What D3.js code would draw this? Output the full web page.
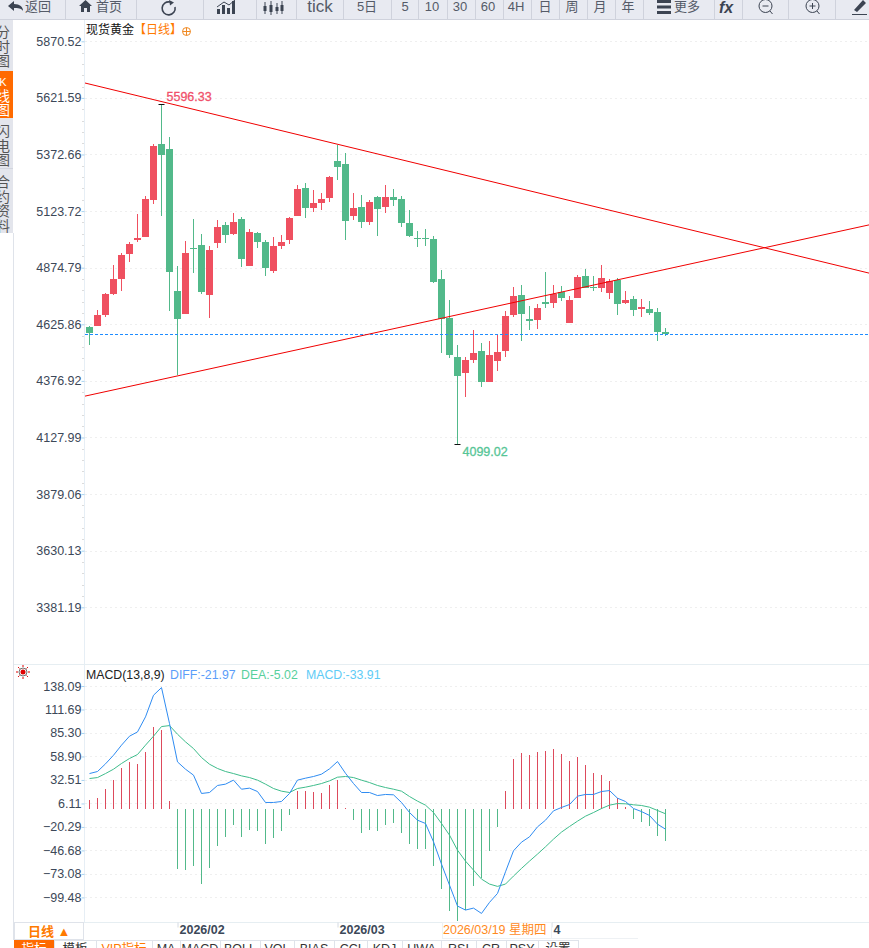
<!DOCTYPE html>
<html><head><meta charset="utf-8">
<style>html,body{margin:0;padding:0;background:#fff;overflow:hidden}svg{display:block}
text{font-family:"Liberation Sans","Noto Sans CJK SC",sans-serif}</style>
<script src="https://cdn.jsdelivr.net/npm/d3@7"></script></head><body>
<svg id="c" width="869" height="948"></svg>
<script>
const open=[4614,4618,4667,4759,4825,4935,4997,5010,5173,5419,5397,4772,4671,4961,4975,4755,4983,5063,5023,5089,4882,5027,4988,4860,4970,4997,5102,5225,5137,5159,5181,5344,5331,5102,5142,5076,5186,5142,5186,5177,5071,5005,5005,5001,4825,4654,4482,4412,4469,4508,4372,4464,4508,4667,4755,4649,4645,4724,4719,4768,4632,4742,4838,4790,4785,4763,4821,4719,4737,4693,4693,4680,4592];
const close=[4588,4667,4759,4825,4931,4979,5005,5177,5410,5370,4856,4649,4939,4957,4768,4953,5054,5019,5076,4913,5032,4988,4873,4970,4988,5093,5221,5137,5159,5177,5274,5318,5080,5137,5076,5164,5133,5186,5173,5071,5014,5001,5001,4812,4649,4491,4398,4469,4500,4372,4491,4504,4662,4750,4671,4640,4698,4715,4759,4742,4733,4834,4785,4785,4829,4816,4715,4733,4689,4702,4676,4592,4581];
const high=[4618,4689,4763,4887,4939,4988,5111,5190,5419,5596.33,5450,4882,4992,5089,5023,4970,5085,5076,5115,5098,5045,5032,4997,5010,5019,5098,5238,5247,5216,5203,5278,5414,5379,5203,5195,5173,5190,5238,5221,5190,5128,5036,5045,5014,4865,4733,4535,4482,4601,4544,4552,4579,4684,4790,4799,4706,4715,4856,4799,4794,4750,4843,4869,4838,4887,4825,4829,4772,4750,4737,4728,4698,4610];
const low=[4535,4618,4658,4755,4772,4900,4988,5010,5155,5102,4684,4403,4671,4851,4759,4654,4961,4983,5019,4878,4882,4961,4838,4851,4957,4979,5102,5093,5120,5128,5164,5260,4997,5085,5049,5063,5014,5115,5146,5054,5010,4966,4970,4807,4500,4478,4099.02,4306,4456,4350,4372,4420,4482,4658,4552,4601,4605,4698,4698,4728,4632,4742,4785,4772,4768,4737,4667,4715,4662,4658,4667,4552,4574];
const macdBar=[9.8,12,22.1,32.3,45.7,52.5,50.2,63.7,91.8,88.4,8.7,-67.7,-68.8,-64.3,-84.5,-66.6,-41.9,-31.8,-18.3,-31.8,-23.9,-25,-39.6,-32.9,-25,-7,19.9,19.9,18.8,17.7,26.6,32.3,1.5,-12.7,-27.3,-23.9,-25,-18.3,-16,-27.3,-39.6,-45.2,-45.2,-64.3,-90.1,-114.8,-126.1,-113.7,-86.8,-77.8,-47.5,-20.5,19.9,55.8,62.6,60.3,63.7,64.8,67.1,61.4,53.6,58.1,49.1,40.1,37.9,31.1,12,1.9,-11.5,-14.9,-19.4,-30.6,-36];
const diff=[39.7,42,50.6,60.3,71.6,81.7,86.5,103.4,127.7,136.3,95.9,52.8,44.6,37.9,17.3,18.4,26.3,27.8,32.3,22.1,23.3,19.5,7.2,7.2,8.3,17.3,32.3,34.5,36.4,39,45,53.2,40,28.5,18.4,18.4,15,16.2,15.8,7.2,-4.1,-12.7,-16.4,-37,-62.1,-85.7,-109.2,-113.7,-111.5,-117.5,-105.1,-95,-70.7,-47.1,-37.4,-31.4,-20.2,-12.7,-2.2,1.6,4.9,14.3,16.2,16.2,19.5,20.6,12,8.3,0.4,-3,-7.4,-17.2,-22.8];
const dea=[34.1,35.2,39.7,44.6,51,56.6,61.1,71.6,81.7,92.5,93.6,83.9,75.3,67.8,57.7,50.2,45.4,42,39.7,37.1,35.2,32.3,27.8,22.9,19.9,18.4,22.9,24.4,26.3,28.5,31.5,35.6,36.4,35.2,32.3,29.6,26.3,24,22.1,19.9,13.9,8.7,4.2,-4.1,-16.4,-29.5,-46.4,-58.7,-68.8,-78.9,-84.5,-87.1,-84.5,-75.5,-66.9,-58.7,-50.8,-42.6,-34,-26.1,-19.8,-13.8,-8.2,-4.1,0.4,4.2,6,5.7,4.6,3.8,1.9,-1.8,-5.5];
const priceTicks=[5870.52,5621.59,5372.66,5123.72,4874.79,4625.86,4376.92,4127.99,3879.06,3630.13,3381.19];
const macdTicks=[138.09,111.69,85.30,58.90,32.51,6.11,-20.29,-46.68,-73.08,-99.48];
const trendIdx=[-0.56,97.44];
const trendDown=[5687,4851];
const trendUp=[4310,5063];
const monthIdx=[11,31,57.75];
const monthLabels=["2026/02","2026/03","4"];
const topButtons=["返回","首页","tick","5日","5","10","30","60","4H","日","周","月","年","更多"];
const sideTabs=[["分","时","图"],["K","线","图"],["闪","电","图"],["合","约","资","料"]];
const bottomTabs=["指标","模板","VIP指标","MA","MACD","BOLL","VOL","BIAS","CCI","KDJ","UWA","RSI","CR","PSY","设置"];

const RED="#ef5060",GREEN="#52b98a",ORANGE="#ff7a00",INK="#3c4858";
const svg=d3.select("#c");
const n=open.length;
const x=d3.scaleLinear().domain([0,n-1]).range([89.5,665.5]);
const y=d3.scaleLinear().domain([priceTicks[0],priceTicks[10]]).range([41.3,607.3]);
const ym=d3.scaleLinear().domain([138.09,-99.48]).range([686,897.4]);
const snap=v=>Math.round(v);

// frames
svg.append("line").attr("x1",84.5).attr("x2",84.5).attr("y1",20).attr("y2",922).attr("stroke","#e6eef5");
svg.append("line").attr("x1",13.5).attr("x2",13.5).attr("y1",233).attr("y2",940).attr("stroke","#dfe3ea");
svg.append("line").attr("x1",14).attr("x2",869).attr("y1",664.5).attr("y2",664.5).attr("stroke","#e6eef2");
svg.append("line").attr("x1",14).attr("x2",869).attr("y1",922.5).attr("y2",922.5).attr("stroke","#e6eef2");

// grids and axes
function grid(scale,ticks,minor){
  const g=svg.append("g");
  g.selectAll("line.g").data(ticks).join("line").attr("class","g").attr("x1",85).attr("x2",869)
   .attr("y1",d=>snap(scale(d))+.5).attr("y2",d=>snap(scale(d))+.5)
   .attr("stroke","#efefef").attr("stroke-dasharray","2,3");
  if(minor){
    const st=(ticks[1]-ticks[0])/5, m=[];
    ticks.slice(0,-1).forEach(t=>{for(let k=1;k<5;k++)m.push(t+st*k)});
    g.selectAll("line.m").data(m).join("line").attr("class","m").attr("x1",82).attr("x2",84)
     .attr("y1",d=>snap(scale(d))+.5).attr("y2",d=>snap(scale(d))+.5).attr("stroke","#dcdcdc");
  }
  const ax=d3.axisLeft(scale).tickValues(ticks).tickFormat(d3.format(".2f")).tickSize(3).tickPadding(0);
  const a=svg.append("g").attr("transform","translate(84.5,0)").call(ax);
  a.select(".domain").remove();
  a.selectAll(".tick line").attr("stroke","#a9d4f2");
  a.selectAll("text").attr("fill",INK).attr("font-size",12.5).attr("font-family","Liberation Sans");
}
grid(y,priceTicks,true);
grid(ym,macdTicks,false);

// candles
const up=i=>close[i]>=open[i];
const idx=d3.range(n);
const cg=svg.append("g");
cg.selectAll("rect.w").data(idx).join("rect").attr("class","w").attr("x",i=>x(i)-.5).attr("width",1)
  .attr("y",i=>snap(y(high[i]))).attr("height",i=>Math.max(1,snap(y(low[i]))-snap(y(high[i]))))
  .attr("fill",i=>up(i)?RED:GREEN);
cg.selectAll("rect.b").data(idx).join("rect").attr("class","b").attr("x",i=>x(i)-3.5).attr("width",7)
  .attr("y",i=>snap(y(Math.max(open[i],close[i]))))
  .attr("height",i=>Math.max(1,snap(y(Math.min(open[i],close[i])))-snap(y(Math.max(open[i],close[i])))))
  .attr("fill",i=>up(i)?RED:GREEN);

// last price line
svg.append("line").attr("x1",85).attr("x2",869).attr("y1",snap(y(close[n-1]))+.5).attr("y2",snap(y(close[n-1]))+.5)
  .attr("stroke","#1e8cff").attr("stroke-dasharray","3,2");

// trend lines
[trendDown,trendUp].forEach(t=>{
  svg.append("line").attr("x1",x(trendIdx[0])).attr("x2",x(trendIdx[1])).attr("y1",y(t[0])).attr("y2",y(t[1]))
   .attr("stroke","#f00000").attr("stroke-width",1);
});

// extreme markers
const iHi=d3.maxIndex(high), iLo=d3.minIndex(low);
[[iHi,high[iHi]],[iLo,low[iLo]]].forEach(([i,v])=>{
  svg.append("line").attr("x1",x(i)-3).attr("x2",x(i)+3).attr("y1",snap(y(v))+.5).attr("y2",snap(y(v))+.5).attr("stroke","#111");
});
svg.append("text").attr("x",x(iHi)+5).attr("y",y(high[iHi])-3).attr("fill","#f0506a").attr("stroke","#f0506a").attr("stroke-width",.3).attr("font-size",12.5).text(d3.format(".2f")(high[iHi]));
svg.append("text").attr("x",x(iLo)+5).attr("y",y(low[iLo])+11.5).attr("fill","#56c596").attr("stroke","#56c596").attr("stroke-width",.3).attr("font-size",12.5).text(d3.format(".2f")(low[iLo]));

// title
svg.append("text").attr("x",86).attr("y",34).attr("font-size",12).attr("fill","#111").text("现货黄金");
svg.append("text").attr("x",134).attr("y",34).attr("font-size",12).attr("fill",ORANGE).text("【日线】");
const ci=svg.append("g").attr("transform","translate(186.5,31.5)").attr("stroke","#f08a24").attr("fill","none");
ci.append("circle").attr("r",4);ci.append("path").attr("d","M-4,0H4M0,-4V4");

// MACD
const mg=svg.append("g");
mg.selectAll("line").data(idx).join("line").attr("x1",i=>x(i)).attr("x2",i=>x(i))
  .attr("y1",snap(ym(0))).attr("y2",i=>snap(ym(macdBar[i])))
  .attr("stroke",i=>macdBar[i]>=0?"#dd4a5c":GREEN);
const ln=a=>d3.line().x((d,i)=>x(i)).y(d=>ym(d))(a);
svg.append("path").attr("d",ln(dea)).attr("fill","none").attr("stroke","#3fbd8c");
svg.append("path").attr("d",ln(diff)).attr("fill","none").attr("stroke","#2f8cf2");
[["MACD(13,8,9)",86,"#222"],["DIFF:-21.97",170,"#5b9df9"],["DEA:-5.02",241,"#58d09c"],["MACD:-33.91",306,"#5ecbf6"]].forEach(d=>{
  svg.append("text").attr("x",d[1]).attr("y",679).attr("font-size",12.3).attr("fill",d[2]).text(d[0]);
});
const sun=svg.append("g").attr("transform","translate(23,672)");
sun.append("circle").attr("r",2.5).attr("fill","#e00000");
sun.append("circle").attr("r",4).attr("fill","none").attr("stroke","#333").attr("stroke-width",.7);
d3.range(8).forEach(k=>{const a=k*Math.PI/4;
  sun.append("line").attr("x1",5*Math.cos(a)).attr("y1",5*Math.sin(a)).attr("x2",7*Math.cos(a)).attr("y2",7*Math.sin(a)).attr("stroke","#e00000");});

// time axis
const xa=d3.axisBottom(x).tickValues(monthIdx).tickFormat((d,i)=>monthLabels[i]).tickSize(5).tickPadding(0);
const xg=svg.append("g").attr("transform","translate(0,922.5)").call(xa);
xg.select(".domain").remove();
xg.selectAll(".tick line").attr("stroke","#d5dae2");
xg.selectAll("text").attr("text-anchor","start").attr("x",1.5).attr("dy",null).attr("y",11).attr("font-size",12.5).attr("font-weight",700).attr("fill",INK).attr("font-family","Liberation Sans");
svg.append("rect").attr("x",442.5).attr("y",922.5).attr("width",109).attr("height",16).attr("fill","#fff").attr("stroke","#eef1f4");
svg.append("text").attr("x",443).attr("y",934).attr("font-size",12.5).attr("fill","#ff8a1e").text("2026/03/19 星期四");
svg.append("line").attr("x1",551).attr("x2",638).attr("y1",938.5).attr("y2",938.5).attr("stroke","#eef1f4");
svg.append("rect").attr("x",14.5).attr("y",922.5).attr("width",69).attr("height",17).attr("fill","#fff").attr("stroke","#dfe3ea");
svg.append("text").attr("x",28).attr("y",936).attr("font-size",13).attr("font-weight",700).attr("fill",ORANGE).text("日线 ▲");

// bottom tabs
const tabEdges=[14,54,96,152,180,220,260,294,334,367,402,441,476,506,538,578];
svg.append("rect").attr("x",14).attr("y",941).attr("width",855).attr("height",7).attr("fill","#fff");
bottomTabs.forEach((t,i)=>{
  const a=tabEdges[i],b=tabEdges[i+1];
  svg.append("rect").attr("x",a+.5).attr("y",940.5).attr("width",b-a).attr("height",12)
    .attr("fill",i==0?"#ff6a00":"#fff").attr("stroke",i==0?"#ff6a00":"#dfe3ea");
  svg.append("text").attr("x",(a+b)/2).attr("y",953).attr("text-anchor","middle").attr("font-size",12.5)
    .attr("fill",i==0?"#fff":i==2?ORANGE:"#333").text(t);
});

// side tabs
svg.append("rect").attr("width",13).attr("height",233).attr("y",15).attr("fill","#e3e5ec");
svg.append("rect").attr("width",13).attr("height",47).attr("y",71).attr("fill","#ff6a00");
svg.append("line").attr("x1",0).attr("x2",13).attr("y1",168.5).attr("y2",168.5).attr("stroke","#d2d5de");
svg.append("rect").attr("width",13).attr("height",15).attr("y",233).attr("fill","#fff");
const sideY=[37,86,136,187];
sideTabs.forEach((s,i)=>s.forEach((c,k)=>{
  svg.append("text").attr("x",3).attr("y",sideY[i]+k*14.7).attr("text-anchor","middle").attr("font-size",i==1&&k==0?11:14)
   .attr("fill",i==1?"#fff":"#555").text(c);
}));

// top toolbar
svg.append("rect").attr("width",869).attr("height",19).attr("fill","#e8eaf1");
svg.append("line").attr("x1",0).attr("x2",869).attr("y1",19.5).attr("y2",19.5).attr("stroke","#cfd2dc");
[65,136,203,256,296,343,391,418,447,475,503,531,559,587,615,643,714,742,788,835].forEach(v=>{
  svg.append("line").attr("x1",v+.5).attr("x2",v+.5).attr("y1",0).attr("y2",19).attr("stroke","#cfd2dc");
});
const topX=[25,96,320,367,405,432,460,488,516,545,572,600,628,674];
const tb=svg.append("g").attr("fill","#555b68").attr("font-size",13);
topButtons.forEach((t,i)=>{
  const big=t==="tick";
  tb.append("text").attr("x",topX[i]).attr("y",big?12:11).attr("text-anchor",i<2||i==13?"start":"middle").attr("font-size",big?17:13).text(t);
});
const icon="#3c4452";
svg.append("path").attr("d","M8,6 L14,1 V4 C20,4 23,7 23,11 C21,8 18,8 14,8 V11 Z").attr("fill",icon);
svg.append("path").attr("d","M79,6 L85.5,0 L92,6 H90 V12 H87 V8 H84 V12 H81 V6 Z").attr("fill",icon);
svg.append("path").attr("d","M175,7 A6.5,6.5 0 1 1 170,2").attr("fill","none").attr("stroke",icon).attr("stroke-width",1.6);
svg.append("path").attr("d","M169,0 L174,2.5 L170,5.5 Z").attr("fill",icon);
svg.append("path").attr("d","M217,14V9H220V14ZM222,14V5H225V14ZM227,14V8H230V14ZM232,14V1H235V14Z").attr("fill",icon);
svg.append("path").attr("d","M217,7L224,2L229,5L235,0").attr("fill","none").attr("stroke",icon);
[[265,4,10],[271,3,12],[277,5,9],[282,3,11]].forEach(d=>{
  svg.append("rect").attr("x",d[0]-1.5).attr("y",d[1]+2).attr("width",3).attr("height",d[2]-5).attr("fill",icon);
  svg.append("line").attr("x1",d[0]).attr("x2",d[0]).attr("y1",d[1]-2).attr("y2",d[1]+d[2]).attr("stroke",icon);
});
svg.append("path").attr("d","M657,0H671V3H657ZM657,5.5H671V8.5H657ZM657,11H671V14H657Z").attr("fill",icon);
svg.append("text").attr("x",719).attr("y",13).attr("font-size",16).attr("font-weight",700).attr("font-style","italic").attr("fill",icon).text("fx");
[[765.5,"M-3,0H3"],[812.5,"M-3,0H3M0,-3V3"]].forEach(d=>{
  const g=svg.append("g").attr("transform",`translate(${d[0]},6)`).attr("fill","none").attr("stroke",icon);
  g.append("circle").attr("r",6.5);g.append("path").attr("d",d[1]);g.append("path").attr("d","M4.5,5L7,8");
});
svg.append("path").attr("d","M854,10 L863,0 L866,3 L857,12 Z M852,15 H867 V14 H852 Z").attr("fill",icon);
</script></body></html>
